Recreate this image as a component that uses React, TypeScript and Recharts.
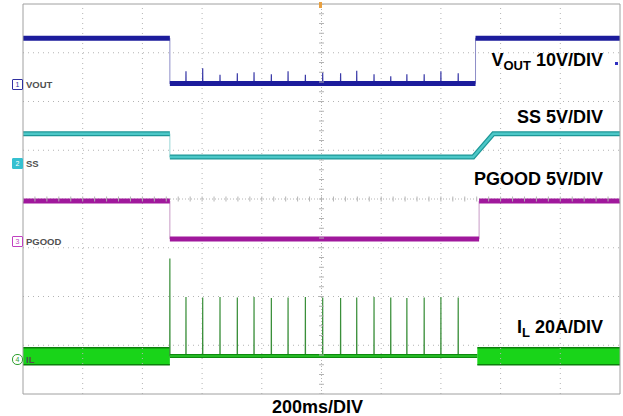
import React from "react";
import { Area, ComposedChart, Line, ReferenceLine, Scatter, XAxis, YAxis } from "recharts";

// screen is 10 x 8 divisions, values in divisions
const GRID_X = [1, 2, 3, 4, 6, 7, 8, 9];
const GRID_Y = [1, 2, 3, 5, 6, 7];
const CENTER_X = 5;
const CENTER_Y = 4;
const MINOR_X = Array.from({ length: 51 }, (_, i) => i * 0.2);
const MINOR_Y = Array.from({ length: 41 }, (_, i) => i * 0.2);

const VOUT_TIME = [0, 2.46, 2.46, 7.58, 7.58, 10];
const VOUT_LEVEL = [7.3, 7.3, 6.37, 6.37, 7.3, 7.3];

const SS_TIME = [0, 2.46, 2.46, 7.54, 7.88, 10];
const SS_LEVEL = [5.34, 5.34, 4.86, 4.86, 5.34, 5.34];

const PGOOD_TIME = [0, 2.46, 2.46, 7.64, 7.64, 10];
const PGOOD_LEVEL = [3.96, 3.96, 3.18, 3.18, 3.96, 3.96];

// inductor current: switching band before / after, pulses in between
const IL_BAND_LOW = 0.6;
const IL_BAND_HIGH = 0.95;
const IL_BAND_SEGMENTS = [
  [0, 2.46],
  [7.61, 10],
];
const IL_BASE = 0.78;
const IL_BASE_START = 2.46;
const IL_BASE_END = 7.61;

const SPIKE_TIME = [
  2.46, 2.73, 3.01, 3.3, 3.59, 3.87, 4.16, 4.44, 4.73, 5.02, 5.32, 5.59, 5.88,
  6.16, 6.43, 6.72, 7.0, 7.29,
];
const IL_SPIKE_PEAK = [
  2.78, 1.99, 1.98, 1.99, 1.98, 1.99, 1.97, 1.98, 1.99, 1.98, 1.97, 1.98, 1.99,
  1.98, 1.97, 1.98, 1.99, 1.98,
];
const VOUT_SPIKE_PEAK = [
  6.37, 6.62, 6.68, 6.55, 6.58, 6.6, 6.56, 6.62, 6.55, 6.6, 6.58, 6.63, 6.56,
  6.52, 6.56, 6.56, 6.62, 6.58,
];

const traceData = (times: number[], levels: number[], breakSteps: boolean) => {
  const out: { t: number; v: number | null }[] = [];
  times.forEach((t, i) => {
    if (breakSteps && i > 0 && t === times[i - 1]) out.push({ t, v: null });
    out.push({ t, v: levels[i] });
  });
  return out;
};

const spikeData = (base: number, peaks: number[]) => {
  const out: { t: number; v: number }[] = [];
  SPIKE_TIME.forEach((t, i) => {
    out.push({ t: t - 0.002, v: base });
    out.push({ t, v: peaks[i] });
    out.push({ t: t + 0.002, v: base });
  });
  return out;
};

const GRID = "#b4b4b4";
const BORDER = "#a0a0a0";

const TickV = (p: any) => (
  <line x1={p.cx} x2={p.cx} y1={p.cy - 2.5} y2={p.cy + 2.5} stroke={GRID} strokeWidth={1} />
);
const TickH = (p: any) => (
  <line x1={p.cx - 2.5} x2={p.cx + 2.5} y1={p.cy} y2={p.cy} stroke={GRID} strokeWidth={1} />
);

const labelStyle: React.CSSProperties = {
  position: "absolute",
  right: 20,
  fontFamily: "'Liberation Sans', Arial, sans-serif",
  fontWeight: "bold",
  fontSize: 18,
  lineHeight: 1,
  color: "#000",
  whiteSpace: "nowrap",
};

const chLabel: React.CSSProperties = {
  position: "absolute",
  left: 26,
  fontFamily: "'Liberation Sans', Arial, sans-serif",
  fontWeight: "bold",
  fontSize: 9.5,
  lineHeight: 1,
  color: "#505050",
};

const marker = (top: number, color: string, text: string, fill: boolean, round: boolean) => (
  <div
    style={{
      position: "absolute",
      left: 12,
      top,
      width: 9,
      height: 9,
      border: `1px solid ${color}`,
      background: fill ? color : "#fff",
      borderRadius: round ? 5 : 1,
      color: fill ? "#fff" : color,
      fontFamily: "'Liberation Sans', Arial, sans-serif",
      fontSize: 7,
      lineHeight: "9px",
      textAlign: "center",
    }}
  >
    {text}
  </div>
);

export default function App() {
  const sub = { fontSize: 13, position: "relative" as const, top: 4 };
  return (
    <div style={{ position: "absolute", left: 0, top: 0, width: 623, height: 416, background: "#fff" }}>
      <ComposedChart width={623} height={416} margin={{ top: 4, right: 3, bottom: 22, left: 23 }}>
        <XAxis
          xAxisId={0}
          dataKey="t"
          type="number"
          domain={[0, 10]}
          ticks={MINOR_X}
          allowDataOverflow
          mirror
          height={1}
          tickSize={3}
          tick={false}
          axisLine={{ stroke: BORDER }}
          tickLine={{ stroke: BORDER }}
        />
        <XAxis
          xAxisId="top"
          orientation="top"
          type="number"
          domain={[0, 10]}
          ticks={MINOR_X}
          mirror
          height={1}
          tickSize={3}
          tick={false}
          axisLine={{ stroke: BORDER }}
          tickLine={{ stroke: BORDER }}
        />
        <YAxis
          yAxisId={0}
          dataKey="v"
          type="number"
          domain={[0, 8]}
          ticks={MINOR_Y}
          allowDataOverflow
          mirror
          width={1}
          tickSize={3}
          tick={false}
          axisLine={{ stroke: BORDER }}
          tickLine={{ stroke: BORDER }}
        />
        <YAxis
          yAxisId="right"
          orientation="right"
          type="number"
          domain={[0, 8]}
          ticks={MINOR_Y}
          mirror
          width={1}
          tickSize={3}
          tick={false}
          axisLine={{ stroke: BORDER }}
          tickLine={{ stroke: BORDER }}
        />
        {GRID_X.map((x) => (
          <ReferenceLine key={`gx${x}`} x={x} stroke={GRID} strokeDasharray="1 4" />
        ))}
        {GRID_Y.map((y) => (
          <ReferenceLine key={`gy${y}`} y={y} stroke={GRID} strokeDasharray="1 4" />
        ))}
        <ReferenceLine x={CENTER_X} stroke={GRID} strokeDasharray="1 2" />
        <ReferenceLine y={CENTER_Y} stroke={GRID} strokeDasharray="1 2" />
        <Scatter
          data={MINOR_X.map((t) => ({ t, v: CENTER_Y }))}
          shape={TickV}
          isAnimationActive={false}
        />
        <Scatter
          data={MINOR_Y.map((v) => ({ t: CENTER_X, v }))}
          shape={TickH}
          isAnimationActive={false}
        />

        {/* IL */}
        {IL_BAND_SEGMENTS.map(([a, b], i) => (
          <Area
            key={`band${i}`}
            data={[
              { t: a, r: [IL_BAND_LOW, IL_BAND_HIGH] },
              { t: b, r: [IL_BAND_LOW, IL_BAND_HIGH] },
            ]}
            dataKey="r"
            type="linear"
            fill="#19d419"
            fillOpacity={1}
            stroke="#0c7e0c"
            strokeWidth={1.5}
            dot={false}
            activeDot={false}
            isAnimationActive={false}
          />
        ))}
        <Line
          data={spikeData(IL_BASE, IL_SPIKE_PEAK)}
          dataKey="v"
          type="linear"
          stroke="#3a8f3a"
          strokeWidth={1.2}
          dot={false}
          activeDot={false}
          isAnimationActive={false}
        />
        <Line
          data={[
            { t: IL_BASE_START, v: IL_BASE },
            { t: IL_BASE_END, v: IL_BASE },
          ]}
          dataKey="v"
          type="linear"
          stroke="#0f8a0f"
          strokeWidth={4}
          dot={false}
          activeDot={false}
          isAnimationActive={false}
        />
        <Line
          data={[
            { t: IL_BASE_START, v: IL_BASE },
            { t: IL_BASE_END, v: IL_BASE },
          ]}
          dataKey="v"
          type="linear"
          stroke="#2ec82e"
          strokeWidth={1.5}
          dot={false}
          activeDot={false}
          isAnimationActive={false}
        />

        {/* PGOOD */}
        <Line
          data={traceData(PGOOD_TIME, PGOOD_LEVEL, false)}
          dataKey="v"
          type="linear"
          stroke="#c89ac6"
          strokeWidth={1}
          dot={false}
          activeDot={false}
          isAnimationActive={false}
        />
        <Line
          data={traceData(PGOOD_TIME, PGOOD_LEVEL, true)}
          dataKey="v"
          type="linear"
          stroke="#a0189c"
          strokeWidth={5}
          dot={false}
          activeDot={false}
          isAnimationActive={false}
        />

        {/* SS */}
        <Line
          data={traceData(SS_TIME, SS_LEVEL, false)}
          dataKey="v"
          type="linear"
          stroke="#9ad6d6"
          strokeWidth={1}
          dot={false}
          activeDot={false}
          isAnimationActive={false}
        />
        <Line
          data={traceData(SS_TIME, SS_LEVEL, true)}
          dataKey="v"
          type="linear"
          stroke="#1e9797"
          strokeWidth={5}
          dot={false}
          activeDot={false}
          isAnimationActive={false}
        />
        <Line
          data={traceData(SS_TIME, SS_LEVEL, true)}
          dataKey="v"
          type="linear"
          stroke="#4cc8c8"
          strokeWidth={2.5}
          dot={false}
          activeDot={false}
          isAnimationActive={false}
        />

        {/* VOUT */}
        <Line
          data={spikeData(6.37, VOUT_SPIKE_PEAK)}
          dataKey="v"
          type="linear"
          stroke="#3a3aa8"
          strokeWidth={1.2}
          dot={false}
          activeDot={false}
          isAnimationActive={false}
        />
        <Line
          data={traceData(VOUT_TIME, VOUT_LEVEL, false)}
          dataKey="v"
          type="linear"
          stroke="#8e8ec8"
          strokeWidth={1}
          dot={false}
          activeDot={false}
          isAnimationActive={false}
        />
        <Line
          data={traceData(VOUT_TIME, VOUT_LEVEL, true)}
          dataKey="v"
          type="linear"
          stroke="#1c1c9c"
          strokeWidth={5}
          dot={false}
          activeDot={false}
          isAnimationActive={false}
        />
      </ComposedChart>

      {marker(79, "#3030a0", "1", false, false)}
      <div style={{ ...chLabel, top: 80 }}>VOUT</div>
      {marker(158, "#35c0d0", "2", true, false)}
      <div style={{ ...chLabel, top: 159 }}>SS</div>
      {marker(236, "#c040c0", "3", false, false)}
      <div style={{ ...chLabel, top: 237 }}>PGOOD</div>
      {marker(354, "#30a030", "4", false, true)}
      <div style={{ ...chLabel, top: 355 }}>IL</div>

      <div style={{ position: "absolute", left: 319, top: 2, width: 3, height: 6, background: "#e8a040" }} />
      <div style={{ position: "absolute", left: 615, top: 62, width: 3, height: 3, background: "#3030c0" }} />

      <div style={{ ...labelStyle, top: 51 }}>
        V<span style={sub}>OUT</span> 10V/DIV
      </div>
      <div style={{ ...labelStyle, top: 108 }}>SS 5V/DIV</div>
      <div style={{ ...labelStyle, top: 170 }}>PGOOD 5V/DIV</div>
      <div style={{ ...labelStyle, top: 318 }}>
        I<span style={sub}>L</span> 20A/DIV
      </div>
      <div style={{ ...labelStyle, right: undefined, left: 272, top: 398 }}>200ms/DIV</div>
    </div>
  );
}
